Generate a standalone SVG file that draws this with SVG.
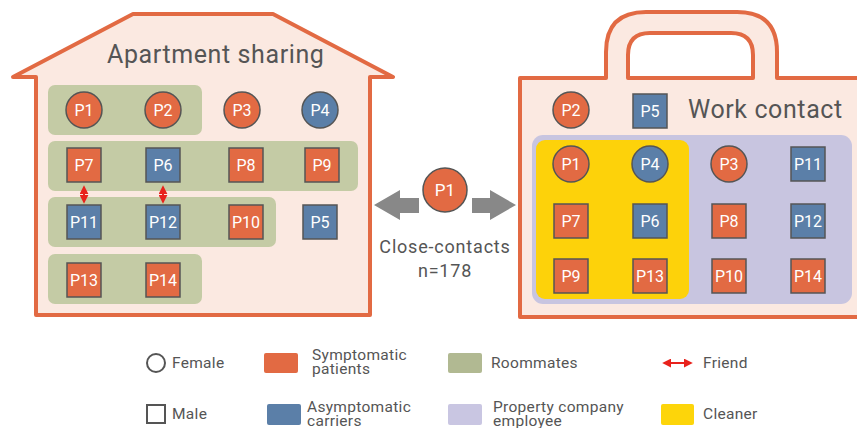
<svg xmlns="http://www.w3.org/2000/svg" width="857" height="428" viewBox="0 0 857 428">
<style>
text{font-family:Roboto,"Liberation Sans",sans-serif;fill:#555}
.t{font-size:25px;letter-spacing:0.6px}
.n{font-size:16px;fill:#fff;text-anchor:middle;dominant-baseline:central}
.lg{font-size:15.5px;letter-spacing:0.3px}
.cc{font-size:18px;letter-spacing:0.8px;text-anchor:middle}
.sym{fill:#e26a43;stroke:#555;stroke-width:1.5}
.asy{fill:#5b7fa8;stroke:#555;stroke-width:1.5}
.bld{fill:#fbe9e1;stroke:#e26a43;stroke-width:4;stroke-linejoin:round}
.room{fill:#c4cba5}
.fr{stroke:#e8221c;stroke-width:2;fill:none;marker-start:url(#ah);marker-end:url(#ah)}
</style>
<defs>
<marker id="ah" viewBox="0 0 10 10" refX="8" refY="5" markerWidth="4.5" markerHeight="4.5" orient="auto-start-reverse">
<path d="M0,0 L10,5 L0,10 z" fill="#e8221c"/>
</marker>
</defs>

<g id="house">
<path class="bld" d="M36,315 L36,77 L13,77 L133,14 L273,14 L393,77 L370,77 L370,315 Z"/>
<text class="t" x="107" y="63">Apartment sharing</text>
<rect class="room" x="48" y="85" width="154" height="50" rx="7"/>
<rect class="room" x="48" y="141" width="310" height="50" rx="7"/>
<rect class="room" x="48" y="197" width="228" height="50" rx="7"/>
<rect class="room" x="48" y="254" width="154" height="50" rx="7"/>
</g>

<g id="briefcase">
<path class="bld" d="M606,78 L606,52 Q606,12 646,12 L737,12 Q777,12 777,52 L777,78 L870,78 L870,317 L520,317 L520,78 Z M628,78 L753,78 L753,55 Q753,33 731,33 L650,33 Q628,33 628,55 Z"/>
<text class="t" x="688" y="118">Work contact</text>
<rect x="532" y="135" width="320" height="169" rx="11" fill="#c8c5e0"/>
<rect x="536" y="140" width="153" height="159" rx="9" fill="#fdd20a"/>
</g>

<g id="connectors">
<line class="fr" x1="84" y1="187" x2="84" y2="202"/>
<line class="fr" x1="163" y1="187" x2="163" y2="202"/>
<path d="M374,205 L400,190 L400,198 L419,198 L419,213 L400,213 L400,220 Z" fill="#888"/>
<path d="M516,205 L490,190 L490,198 L472,198 L472,213 L490,213 L490,220 Z" fill="#888"/>
</g>

<g id="h-P1"><circle class="sym" cx="84" cy="110" r="18"/><text class="n" x="84" y="110">P1</text></g>
<g id="h-P2"><circle class="sym" cx="163" cy="110" r="18"/><text class="n" x="163" y="110">P2</text></g>
<g id="h-P3"><circle class="sym" cx="242" cy="110" r="18"/><text class="n" x="242" y="110">P3</text></g>
<g id="h-P4"><circle class="asy" cx="320" cy="110" r="18"/><text class="n" x="320" y="110">P4</text></g>
<g id="h-P7"><rect class="sym" x="67" y="148" width="34" height="34"/><text class="n" x="84" y="165">P7</text></g>
<g id="h-P6"><rect class="asy" x="146" y="148" width="34" height="34"/><text class="n" x="163" y="165">P6</text></g>
<g id="h-P8"><rect class="sym" x="229" y="148" width="34" height="34"/><text class="n" x="246" y="165">P8</text></g>
<g id="h-P9"><rect class="sym" x="305" y="148" width="34" height="34"/><text class="n" x="322" y="165">P9</text></g>
<g id="h-P11"><rect class="asy" x="67" y="205" width="34" height="34"/><text class="n" x="84" y="222">P11</text></g>
<g id="h-P12"><rect class="asy" x="146" y="205" width="34" height="34"/><text class="n" x="163" y="222">P12</text></g>
<g id="h-P10"><rect class="sym" x="229" y="205" width="34" height="34"/><text class="n" x="246" y="222">P10</text></g>
<g id="h-P5"><rect class="asy" x="303" y="205" width="34" height="34"/><text class="n" x="320" y="222">P5</text></g>
<g id="h-P13"><rect class="sym" x="67" y="263" width="34" height="34"/><text class="n" x="84" y="280">P13</text></g>
<g id="h-P14"><rect class="sym" x="146" y="263" width="34" height="34"/><text class="n" x="163" y="280">P14</text></g>

<g id="center-P1"><circle class="sym" cx="445" cy="190" r="22"/><text class="n" x="445" y="190" style="font-size:17px">P1</text></g>
<g id="close-contacts">
<text class="cc" x="445" y="253">Close-contacts</text>
<text class="cc" x="445" y="277">n=178</text>
</g>

<g id="w-P2"><circle class="sym" cx="571" cy="110" r="18"/><text class="n" x="571" y="110">P2</text></g>
<g id="w-P5"><rect class="asy" x="633" y="94" width="34" height="34"/><text class="n" x="650" y="111">P5</text></g>
<g id="w-P1"><circle class="sym" cx="571" cy="164" r="18"/><text class="n" x="571" y="164">P1</text></g>
<g id="w-P4"><circle class="asy" cx="650" cy="164" r="18"/><text class="n" x="650" y="164">P4</text></g>
<g id="w-P3"><circle class="sym" cx="729" cy="164" r="18"/><text class="n" x="729" y="164">P3</text></g>
<g id="w-P11"><rect class="asy" x="791" y="147" width="34" height="34"/><text class="n" x="808" y="164">P11</text></g>
<g id="w-P7"><rect class="sym" x="554" y="204" width="34" height="34"/><text class="n" x="571" y="221">P7</text></g>
<g id="w-P6"><rect class="asy" x="633" y="204" width="34" height="34"/><text class="n" x="650" y="221">P6</text></g>
<g id="w-P8"><rect class="sym" x="712" y="204" width="34" height="34"/><text class="n" x="729" y="221">P8</text></g>
<g id="w-P12"><rect class="asy" x="791" y="204" width="34" height="34"/><text class="n" x="808" y="221">P12</text></g>
<g id="w-P9"><rect class="sym" x="554" y="259" width="34" height="34"/><text class="n" x="571" y="276">P9</text></g>
<g id="w-P13"><rect class="sym" x="633" y="259" width="34" height="34"/><text class="n" x="650" y="276">P13</text></g>
<g id="w-P10"><rect class="sym" x="712" y="259" width="34" height="34"/><text class="n" x="729" y="276">P10</text></g>
<g id="w-P14"><rect class="sym" x="791" y="259" width="34" height="34"/><text class="n" x="808" y="276">P14</text></g>

<g id="legend">
<circle cx="156" cy="363" r="9" fill="none" stroke="#555" stroke-width="2"/>
<text class="lg" x="172" y="368">Female</text>
<rect x="147" y="405" width="18" height="18" fill="none" stroke="#555" stroke-width="2"/>
<text class="lg" x="172" y="419">Male</text>
<rect x="264" y="353" width="34" height="20" rx="2" fill="#e26a43"/>
<text class="lg" x="312" y="360">Symptomatic</text>
<text class="lg" x="312" y="374">patients</text>
<rect x="267" y="404" width="34" height="21" rx="2" fill="#5b7fa8"/>
<text class="lg" x="307" y="412">Asymptomatic</text>
<text class="lg" x="307" y="426">carriers</text>
<rect x="448" y="353" width="34" height="20" rx="2" fill="#b1b992"/>
<text class="lg" x="491" y="368">Roommates</text>
<rect x="448" y="404" width="34" height="21" rx="2" fill="#c9c6e2"/>
<text class="lg" x="493" y="412">Property company</text>
<text class="lg" x="493" y="426">employee</text>
<line x1="664" y1="363" x2="691" y2="363" stroke="#e8221c" stroke-width="2" marker-start="url(#ah)" marker-end="url(#ah)"/>
<text class="lg" x="703" y="368">Friend</text>
<rect x="661" y="404" width="33" height="21" rx="2" fill="#fdd50a"/>
<text class="lg" x="703" y="419">Cleaner</text>
</g>
</svg>
